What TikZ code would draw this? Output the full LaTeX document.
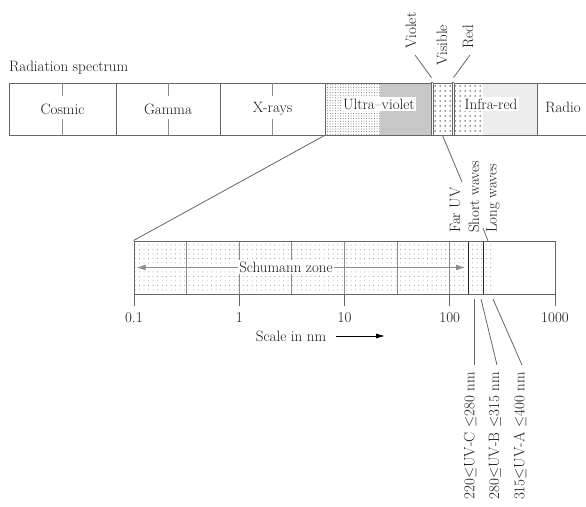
\documentclass[tikz,border=0pt]{standalone}
\usetikzlibrary{patterns.meta,arrows.meta}
\begin{document}
\begin{tikzpicture}[x=1pt,y=-1pt]

\def\bandY{109}
\def\dec{105.25}

\tikzset{
        every node/.style={font=\fontsize{15}{17}\selectfont,text=black!90},
        line/.style={draw=black!60,line width=.9pt},
        band/.style={line,minimum height=52pt,inner sep=0pt},
        tick/.style={draw=black!45,line width=.7pt},
        lead/.style={draw=black!60,line width=.8pt},
        tag/.style={fill=white,inner sep=1.5pt},
        vert/.style={rotate=90,inner sep=1pt},
        fine dots/.style={pattern={Dots[distance=2.6pt,radius=.5pt]},pattern color=black!60},
        wide dots/.style={pattern={Dots[distance=5pt,radius=.75pt]},pattern color=black!80},
        zone dots/.style={pattern={Dots[distance=4.5pt,radius=.5pt]},pattern color=black!45}
}

\useasboundingbox (0,0) rectangle (586,506);

\node[anchor=west,inner sep=0pt] (title) at (9,68) {Radiation spectrum};

\fill[fine dots] (325,83) rectangle (380,135);
\fill[black!22] (380,83) rectangle (431,135);
\fill[wide dots] (433,83) rectangle (452,135);
\fill[wide dots] (454,83) rectangle (483,135);
\fill[black!7] (483,83) rectangle (537,135);

\foreach \n/\a/\b/\t in {COS/9/116/Cosmic,GAM/116/220/Gamma,XR/220/325/X-rays} {
     \node[band,minimum width=\b-\a] (\n) at ({(\a+\b)/2},\bandY) {\t};
     \draw[tick] (\n.north) -- ++(0,13);
     \draw[tick] (\n.south) -- ++(0,-16);
}
\node[band,minimum width=106] (UV) at (378,\bandY) {};
\node[band,minimum width=19] (VIS) at (442.5,\bandY) {};
\node[band,minimum width=83] (IR) at (495.5,\bandY) {};
\node[band,minimum width=60,anchor=west] (RAD) at (537,\bandY) {};
\draw[line] (UV.north east) -- (VIS.north west) (VIS.north east) -- (IR.north west);
\draw[line] (UV.south east) -- (VIS.south west) (VIS.south east) -- (IR.south west);

\node[tag] (UVL) at (379,104) {Ultra--violet};
\node[tag] (IRL) at (491,104) {Infra-red};
\node (RADL) at (563,107) {Radio};

\node[vert,anchor=west] (VIO) at (411,50) {Violet};
\node[vert,anchor=west] (VISL) at (442,67) {Visible};
\node[vert,anchor=west] (RED) at (468,50) {Red};
\draw[lead] ([shift={(4pt,-5pt)}]VIO.west) -- ([yshift=5pt]UV.north east);
\draw[lead] ([shift={(2pt,-5pt)}]RED.west) -- ([yshift=5pt]IR.north west);

\fill[zone dots] (134,241) rectangle (493,294);
\foreach \k in {1,...,6}
     \draw[tick] (134+\k*52.6,241) -- ++(0,53);
\draw[line,draw=black!85] (468,241) -- ++(0,53);
\draw[line,draw=black!85] (483,241) -- ++(0,53);
\node[line,minimum width=421,minimum height=53,inner sep=0pt] (ZB) at (344.5,267.5) {};

\coordinate (SZ end) at (465,267.5);
\draw[black!45,line width=1pt,{Latex[length=9pt,width=6pt]}-{Latex[length=9pt,width=6pt]}] ([xshift=3pt]ZB.west) -- (SZ end);
\node[tag] (SZ) at (286,267) {Schumann zone};

\coordinate (VIS end) at (462,182);
\draw[lead] (UV.south west) -- (ZB.north west);
\draw[lead] (VIS.south) -- (VIS end);

\node[vert,anchor=west] (FUV) at (455,234) {Far UV};
\node[vert,anchor=west] (SW) at (474,234) {Short waves};
\node[vert,anchor=west] (LW) at (493,234) {Long waves};
\coordinate (LW end) at (488,241);
\draw[lead] ([shift={(9pt,6pt)}]SW.west) -- (LW end);

\foreach \i/\l in {0/0.1,1/1,2/10,3/100,4/1000} {
     \coordinate (T\i) at (134+\i*\dec,294);
     \draw[line] (T\i) -- ++(0,12);
     \node[anchor=north,inner sep=1pt] (S\i) at ([yshift=-17pt]T\i) {\l};
}
\node (SC) at (291,336) {Scale in nm};
\coordinate (SC end) at (385,336);
\draw[black,line width=.8pt,-{Latex[length=9pt,width=5pt]}] ([xshift=6pt]SC.east) -- (SC end);

\foreach \n/\s/\x/\d/\t in {UVC/474/470/4/{220$\leq$UV-C $\leq$280 nm},UVB/481/495/2/{280$\leq$UV-B $\leq$315 nm},UVA/493/520/2/{315$\leq$UV-A $\leq$400 nm}} {
     \coordinate (\n top) at (\s,299);
     \node[vert,anchor=east] (\n) at (\x,371) {\t};
     \draw[lead] (\n top) -- ([shift={(\d pt,6pt)}]\n.east);
}

\end{tikzpicture}
\end{document}
